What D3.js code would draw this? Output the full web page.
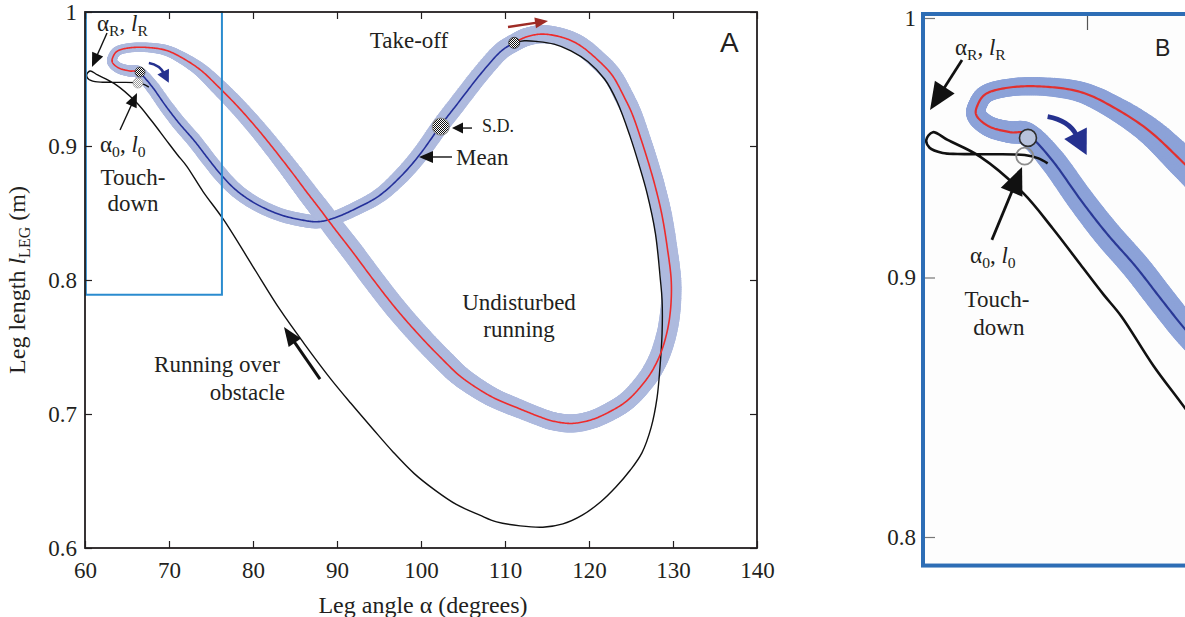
<!DOCTYPE html>
<html>
<head>
<meta charset="utf-8">
<script src="https://d3js.org/d3.v7.min.js"></script>
<style>
  body { margin: 0; background: #fff; }
  svg text { font-family: "Liberation Serif", "Times New Roman", serif; fill: #231f20; }
</style>
</head>
<body>
<svg id="chart" width="1185" height="617"></svg>
<script>
// axis ticks
const xTicks = [60, 70, 80, 90, 100, 110, 120, 130, 140]
const yTicks = [0.6, 0.7, 0.8, 0.9, 1]
const zoomYTicks = [0.8, 0.9, 1]
const zoomXTicks = [70]

// mean trajectory, stance (touch-down -> take-off)
const stanceAlpha = [66.4, 67.9, 69.6, 71.2, 73.0, 74.6, 76.2, 78.0, 80.3, 83.1, 85.65, 87.65, 89.55, 92.15, 95.05, 97.7, 99.9, 102.3, 104.4, 107.0, 109.4, 111.1]
const stanceLength = [0.955, 0.945, 0.930, 0.917, 0.904, 0.891, 0.8785, 0.867, 0.857, 0.849, 0.845, 0.8435, 0.846, 0.853, 0.863, 0.878, 0.894, 0.915, 0.932, 0.953, 0.970, 0.977]
const stanceSD = [0.0045, 0.005, 0.0052, 0.0054, 0.0055, 0.0055, 0.0055, 0.0053, 0.0052, 0.005, 0.005, 0.005, 0.005, 0.0052, 0.0055, 0.006, 0.0062, 0.0065, 0.0066, 0.0066, 0.0066, 0.0066]

// mean trajectory, swing (take-off -> touch-down)
const swingAlpha = [112.6, 114.5, 116.85, 118.95, 121.25, 122.85, 124.15, 125.2, 126.3, 127.2, 128.0, 128.7, 129.3, 129.8, 129.6, 128.8, 127.6, 126.1, 124.55, 122.85, 120.45, 118.05, 115.85, 114.1, 111.3, 109.0, 107.0, 104.7, 103.0, 100.2, 97.1, 94.35, 91.85, 89.75, 87.95, 86.35, 84.8, 82.7, 80.5, 78.1, 75.75, 73.7, 71.5, 69.6, 67.5, 65.5, 63.9, 63.3, 63.3, 64.1, 65.3]
const swingLength = [0.9815, 0.9835, 0.981, 0.975, 0.963, 0.952, 0.937, 0.923, 0.903, 0.885, 0.867, 0.848, 0.825, 0.798, 0.772, 0.750, 0.733, 0.720, 0.710, 0.703, 0.696, 0.693, 0.6945, 0.698, 0.705, 0.711, 0.718, 0.728, 0.738, 0.756, 0.778, 0.800, 0.821, 0.838, 0.853, 0.866, 0.879, 0.896, 0.913, 0.930, 0.945, 0.957, 0.966, 0.9715, 0.9735, 0.9734, 0.971, 0.966, 0.962, 0.958, 0.956]
const swingSD = [0.0068, 0.0068, 0.0068, 0.007, 0.007, 0.007, 0.0072, 0.0072, 0.0072, 0.0073, 0.0074, 0.0075, 0.0075, 0.0076, 0.0076, 0.0075, 0.0073, 0.0071, 0.007, 0.007, 0.0068, 0.0068, 0.0068, 0.0068, 0.007, 0.0072, 0.0075, 0.0078, 0.008, 0.0081, 0.0082, 0.0082, 0.0082, 0.008, 0.0078, 0.0076, 0.0074, 0.007, 0.0067, 0.0064, 0.006, 0.0052, 0.0045, 0.004, 0.0036, 0.0035, 0.0035, 0.0036, 0.0038, 0.004, 0.0042]

// running over obstacle (take-off -> next touch-down)
const obstacleAlpha = [111.1, 112.3, 113.8, 115.85, 117.85, 119.85, 121.85, 123.35, 124.9, 126.0, 126.9, 127.9, 128.5, 128.7, 128.7, 128.45, 128.1, 127.4, 126.3, 124.9, 123.2, 121.4, 119.2, 116.9, 114.5, 111.8, 109.0, 107.0, 104.2, 101.7, 99.2, 96.7, 94.25, 91.65, 89.15, 86.15, 83.2, 79.9, 76.5, 74.05, 72.1, 71.0, 69.6, 67.9, 66.1, 63.5, 61.5, 60.6, 60.2, 60.4, 61.2, 62.1, 64.0, 66.2, 67.0, 67.6]
const obstacleLength = [0.977, 0.9785, 0.978, 0.976, 0.971, 0.963, 0.950, 0.933, 0.907, 0.885, 0.865, 0.835, 0.80, 0.785, 0.76, 0.735, 0.712, 0.690, 0.671, 0.658, 0.6455, 0.6345, 0.6245, 0.618, 0.6155, 0.6165, 0.6195, 0.6245, 0.6325, 0.643, 0.6555, 0.6715, 0.689, 0.708, 0.727, 0.752, 0.778, 0.811, 0.845, 0.866, 0.885, 0.8935, 0.905, 0.919, 0.9326, 0.9465, 0.953, 0.956, 0.953, 0.950, 0.948, 0.9476, 0.9475, 0.9472, 0.946, 0.944]

// marked events
const takeOff = [111.1, 0.977]
const sdMark = [102.35, 0.9145]
const meanTouchA = [66.55, 0.9552]
const obstTouchA = [66.31, 0.947]
const meanTouchB = [66.4, 0.9538]
const obstTouchB = [66.2, 0.9468]
const zoomBox = { a0: 60.1, a1: 76.3, l0: 0.789, l1: 1.0 }

const ink = "#231f20"
const svg = d3.select("#chart")

const xA = d3.scaleLinear().domain([60, 140]).range([85, 757])
const yA = d3.scaleLinear().domain([0.6, 1]).range([548, 12])
const xB = d3.scaleLinear().domain([60, 70]).range([923, 1087])
const yB = d3.scaleLinear().domain([0.8, 1]).range([537, 18])

// checker fill for the marker circles
const defs = svg.append("defs")
function checker(id, c) {
    const p = defs.append("pattern").attr("id", id).attr("width", 2).attr("height", 2)
        .attr("patternUnits", "userSpaceOnUse")
    p.append("rect").attr("width", 2).attr("height", 2).attr("fill", "#fff")
    p.append("rect").attr("width", 1).attr("height", 1).attr("fill", c)
    p.append("rect").attr("x", 1).attr("y", 1).attr("width", 1).attr("height", 1).attr("fill", c)
}
checker("chk", "#111")
checker("chkGray", "#9a9a9a")
defs.append("clipPath").attr("id", "clipB").append("rect")
    .attr("x", 925).attr("y", 16).attr("width", 300).attr("height", 544)

// closed catmull-rom through the mean loop, sampled densely
const loop = stanceAlpha.map((a, i) => ({a: a, l: stanceLength[i], sd: stanceSD[i]}))
    .concat(swingAlpha.map((a, i) => ({a: a, l: swingLength[i], sd: swingSD[i]})))
const STEPS = 16
function sampleClosed(pts, n) {
    const N = pts.length, out = []
    for (let i = 0; i < N; i++) {
        const p0 = pts[(i - 1 + N) % N], p1 = pts[i], p2 = pts[(i + 1) % N], p3 = pts[(i + 2) % N]
        for (let s = 0; s < n; s++) {
            const t = s / n
            const cr = (a, b, c, d) => 0.5 * (2 * b + (c - a) * t + (2 * a - 5 * b + 4 * c - d) * t * t + (3 * b - a - 3 * c + d) * t * t * t)
            out.push({a: cr(p0.a, p1.a, p2.a, p3.a), l: cr(p0.l, p1.l, p2.l, p3.l), sd: p1.sd + (p2.sd - p1.sd) * t})
        }
    }
    return out
}
const loopSamples = sampleClosed(loop, STEPS)
const cut = (stanceAlpha.length - 1) * STEPS
const stanceSamples = loopSamples.slice(0, cut + 1)
const swingSamples = loopSamples.slice(cut).concat([loopSamples[0]])
const obstacle = obstacleAlpha.map((a, i) => ({a: a, l: obstacleLength[i]}))

function drawTrajectories(g, x, y, st) {
    const ppu = Math.abs(y(0.9) - y(1)) / 0.1
    g.append("g").selectAll("circle")
        .data(loopSamples)
        .join("circle")
        .attr("cx", (d) => x(d.a))
        .attr("cy", (d) => y(d.l))
        .attr("r", (d) => d.sd * ppu)
        .attr("fill", st.band)
    g.append("path")
        .attr("d", d3.line().x((d) => x(d.a)).y((d) => y(d.l)).curve(d3.curveCatmullRom.alpha(0.5))(obstacle))
        .attr("fill", "none").attr("stroke", "#111").attr("stroke-width", st.black)
        .attr("stroke-linejoin", "round")
    const lin = d3.line().x((d) => x(d.a)).y((d) => y(d.l))
    g.append("path").attr("d", lin(stanceSamples))
        .attr("fill", "none").attr("stroke", st.blue).attr("stroke-width", st.lw)
    g.append("path").attr("d", lin(swingSamples))
        .attr("fill", "none").attr("stroke", st.red).attr("stroke-width", st.lw)
}

function arrow(g, x, y, d, k, o) {
    const x1 = x(d.a1), y1 = y(d.l1), x2 = x(d.a2), y2 = y(d.l2)
    const len = Math.hypot(x2 - x1, y2 - y1), ux = (x2 - x1) / len, uy = (y2 - y1) / len
    const L = o.head * k, W = o.half * k
    const bx = x2 - ux * L, by = y2 - uy * L
    g.append("line")
        .attr("x1", x1).attr("y1", y1)
        .attr("x2", x2 - ux * L * 0.6).attr("y2", y2 - uy * L * 0.6)
        .attr("stroke", o.color).attr("stroke-width", o.width * k)
    g.append("path")
        .attr("d", `M${x2},${y2}L${bx - uy * W},${by + ux * W}L${bx + uy * W},${by - ux * W}Z`)
        .attr("fill", o.color)
}

function curvedArrow(g, x, y, d, k, o) {
    const sx = x(d.a1), sy = y(d.l1), cx = x(d.ac), cy = y(d.lc), tx = x(d.a2), ty = y(d.l2)
    const len = Math.hypot(tx - cx, ty - cy), ux = (tx - cx) / len, uy = (ty - cy) / len
    const L = o.head * k, W = o.half * k
    const bx = tx - ux * L, by = ty - uy * L
    g.append("path")
        .attr("d", `M${sx},${sy}Q${cx},${cy} ${bx + ux * 2},${by + uy * 2}`)
        .attr("fill", "none").attr("stroke", o.color).attr("stroke-width", o.width * k)
    g.append("path")
        .attr("d", `M${tx},${ty}L${bx - uy * W},${by + ux * W}L${bx + uy * W},${by - ux * W}Z`)
        .attr("fill", o.color)
}

function rich(g, px, py, parts, size, anchor) {
    const t = g.append("text").attr("x", px).attr("y", py)
        .attr("font-size", size).attr("text-anchor", anchor || "start")
    parts.forEach((p) => {
        const s = t.append("tspan").text(p.t)
        if (p.i) s.attr("font-style", "italic")
        if (p.sub) s.attr("font-size", size * 0.68).attr("dy", size * 0.22)
        if (p.up) s.attr("dy", -size * 0.22)
    })
    return t
}
const alphaR = [{t: "α"}, {t: "R", sub: 1}, {t: ", ", up: 1}, {t: "l", i: 1}, {t: "R", sub: 1}]
const alpha0 = [{t: "α"}, {t: "0", sub: 1}, {t: ", ", up: 1}, {t: "l", i: 1}, {t: "0", sub: 1}]

const blueTurn = {a1: 67.6, l1: 0.962, ac: 68.9, lc: 0.9605, a2: 69.98, l2: 0.9472}

// ---------------- panel A ----------------
const gA = svg.append("g")
drawTrajectories(gA, xA, yA, {band: "#aebade", blue: "#24309a", red: "#ee2b2b", black: 1.4, lw: 1.6})

gA.append("rect")
    .attr("x", xA(zoomBox.a0)).attr("y", yA(zoomBox.l1))
    .attr("width", xA(zoomBox.a1) - xA(zoomBox.a0))
    .attr("height", yA(zoomBox.l0) - yA(zoomBox.l1))
    .attr("fill", "none").attr("stroke", "#2a8bcf").attr("stroke-width", 2)

gA.append("circle").attr("cx", xA(takeOff[0])).attr("cy", yA(takeOff[1])).attr("r", 5.5)
    .attr("fill", "url(#chk)").attr("stroke", "#222").attr("stroke-width", 0.8)
gA.append("circle").attr("cx", xA(sdMark[0])).attr("cy", yA(sdMark[1])).attr("r", 8.5)
    .attr("fill", "url(#chk)").attr("stroke", "#8a8a8a").attr("stroke-width", 1.2)
gA.append("circle").attr("cx", xA(obstTouchA[0])).attr("cy", yA(obstTouchA[1])).attr("r", 5)
    .attr("fill", "url(#chkGray)").attr("stroke", "#999").attr("stroke-width", 0.6)
gA.append("circle").attr("cx", xA(meanTouchA[0])).attr("cy", yA(meanTouchA[1])).attr("r", 5)
    .attr("fill", "url(#chk)").attr("stroke", "#222").attr("stroke-width", 0.6)

const black = {color: "#111", width: 1.4, head: 14, half: 6}
arrow(gA, xA, yA, {a1: 62.62, l1: 0.9843, a2: 60.83, l2: 0.959}, 1, black)
arrow(gA, xA, yA, {a1: 64.17, l1: 0.912, a2: 66.19, l2: 0.9396}, 1, black)
arrow(gA, xA, yA, {a1: 106.07, l1: 0.9134, a2: 103.69, l2: 0.9134}, 1, {color: "#111", width: 1.4, head: 11, half: 5.5})
arrow(gA, xA, yA, {a1: 103.69, l1: 0.8918, a2: 99.76, l2: 0.8918}, 1, {color: "#111", width: 1.4, head: 14, half: 6})
arrow(gA, xA, yA, {a1: 87.98, l1: 0.7261, a2: 83.69, l2: 0.7649}, 1, {color: "#111", width: 3, head: 19, half: 7.5})
arrow(gA, xA, yA, {a1: 110.36, l1: 0.9888, a2: 115.12, l2: 0.9933}, 1, {color: "#9e2b25", width: 2.4, head: 13, half: 5.5})
curvedArrow(gA, xA, yA, blueTurn, 1, {color: "#25318f", width: 2.6, head: 12.5, half: 6.5})

rich(gA, xA(61.43), yA(0.9858), alphaR, 23)
rich(gA, xA(61.79), yA(0.8955), alpha0, 23)
gA.append("text").attr("x", xA(65.71)).attr("y", yA(0.8709)).attr("font-size", 23).attr("text-anchor", "middle").text("Touch-")
gA.append("text").attr("x", xA(65.71)).attr("y", yA(0.8515)).attr("font-size", 23).attr("text-anchor", "middle").text("down")
gA.append("text").attr("x", xA(98.57)).attr("y", yA(0.9731)).attr("font-size", 23).attr("text-anchor", "middle").text("Take-off")
gA.append("text").attr("x", xA(107.26)).attr("y", yA(0.9104)).attr("font-size", 18).text("S.D.")
gA.append("text").attr("x", xA(104.17)).attr("y", yA(0.8858)).attr("font-size", 23).text("Mean")
gA.append("text").attr("x", xA(111.67)).attr("y", yA(0.7776)).attr("font-size", 23).attr("text-anchor", "middle").text("Undisturbed")
gA.append("text").attr("x", xA(111.67)).attr("y", yA(0.7575)).attr("font-size", 23).attr("text-anchor", "middle").text("running")
gA.append("text").attr("x", xA(83.21)).attr("y", yA(0.7313)).attr("font-size", 23).attr("text-anchor", "end").text("Running over")
gA.append("text").attr("x", xA(83.81)).attr("y", yA(0.7104)).attr("font-size", 23).attr("text-anchor", "end").text("obstacle")
gA.append("text").attr("x", xA(135.6)).attr("y", yA(0.9701)).attr("font-size", 28)
    .style("font-family", "'Liberation Sans', Arial, sans-serif").text("A")

// axes A: MATLAB style box, ticks inside on all four sides
function styleAxis(g, size) {
    g.attr("font-family", null).attr("font-size", null)
    g.select(".domain").remove()
    g.selectAll(".tick line").attr("stroke", ink).attr("stroke-width", 1.2)
    g.selectAll(".tick text").attr("font-size", size).attr("fill", ink)
}
gA.append("g").attr("transform", `translate(0,${yA(0.6)})`)
    .call(d3.axisBottom(xA).tickValues(xTicks).tickSize(-7).tickPadding(14).tickFormat((d) => String(d)))
    .call((g) => styleAxis(g, 23))
gA.append("g").attr("transform", `translate(0,${yA(1)})`)
    .call(d3.axisTop(xA).tickValues(xTicks).tickSize(-7).tickFormat(""))
    .call((g) => styleAxis(g, 23))
gA.append("g").attr("transform", `translate(${xA(60)},0)`)
    .call(d3.axisLeft(yA).tickValues(yTicks).tickSize(-7).tickPadding(8).tickFormat((d) => String(d)))
    .call((g) => styleAxis(g, 23))
gA.append("g").attr("transform", `translate(${xA(140)},0)`)
    .call(d3.axisRight(yA).tickValues(yTicks).tickSize(-7).tickFormat(""))
    .call((g) => styleAxis(g, 23))
gA.append("rect")
    .attr("x", xA(60)).attr("y", yA(1))
    .attr("width", xA(140) - xA(60)).attr("height", yA(0.6) - yA(1))
    .attr("fill", "none").attr("stroke", ink).attr("stroke-width", 1.8)

gA.append("text").attr("x", (xA(60) + xA(140)) / 2 + 2).attr("y", 613)
    .attr("font-size", 24).attr("text-anchor", "middle").text("Leg angle α (degrees)")
const yl = gA.append("text")
    .attr("transform", `translate(25,${(yA(0.6) + yA(1)) / 2}) rotate(-90)`)
    .attr("font-size", 24).attr("text-anchor", "middle")
yl.append("tspan").text("Leg length ")
yl.append("tspan").attr("font-style", "italic").text("l")
yl.append("tspan").attr("font-size", 16).attr("dy", 5).text("LEG")
yl.append("tspan").attr("dy", -5).text(" (m)")

// ---------------- panel B (zoom of the boxed region) ----------------
const gB = svg.append("g")
gB.append("rect")
    .attr("x", xB(60)).attr("y", yB(zoomBox.l1) - 4)
    .attr("width", 300).attr("height", yB(zoomBox.l0) - yB(zoomBox.l1) + 4)
    .attr("fill", "#fdfdfd")
const inner = gB.append("g").attr("clip-path", "url(#clipB)")
const kB = (xB(70) - xB(60)) / (xA(70) - xA(60))
drawTrajectories(inner, xB, yB, {band: "#8ca2d8", blue: "#2a3996", red: "#e2302e", black: 2.6, lw: 2.2})
inner.append("circle").attr("cx", xB(meanTouchB[0])).attr("cy", yB(meanTouchB[1])).attr("r", 8.5)
    .attr("fill", "#b7c2dc").attr("stroke", "#2e2e2e").attr("stroke-width", 1.6)
inner.append("circle").attr("cx", xB(obstTouchB[0])).attr("cy", yB(obstTouchB[1])).attr("r", 8.5)
    .attr("fill", "none").attr("stroke", "#8c8c8c").attr("stroke-width", 1.8)
arrow(inner, xB, yB, {a1: 62.38, l1: 0.9838, a2: 60.43, l2: 0.9645}, kB, black)
arrow(inner, xB, yB, {a1: 64.2, l1: 0.9145, a2: 66.04, l2: 0.9426}, kB, black)
curvedArrow(inner, xB, yB, blueTurn, kB, {color: "#25318f", width: 2.4, head: 12.5, half: 6.5})

rich(inner, xB(61.95), yB(0.9857), alphaR, 23)
rich(inner, xB(62.87), yB(0.9056), alpha0, 23)
inner.append("text").attr("x", xB(64.51)).attr("y", yB(0.8886)).attr("font-size", 23).attr("text-anchor", "middle").text("Touch-")
inner.append("text").attr("x", xB(64.63)).attr("y", yB(0.8778)).attr("font-size", 23).attr("text-anchor", "middle").text("down")
inner.append("text").attr("x", xB(74.15)).attr("y", yB(0.9854)).attr("font-size", 23)
    .style("font-family", "'Liberation Sans', Arial, sans-serif").text("B")

gB.append("g").attr("transform", `translate(${xB(60)},0)`)
    .call(d3.axisLeft(yB).tickValues(zoomYTicks).tickSize(-12).tickPadding(7).tickFormat((d) => String(d)))
    .call((g) => {
        styleAxis(g, 23)
        g.selectAll(".tick line").attr("stroke", "#777")
    })
gB.append("g").attr("transform", `translate(0,${yB(zoomBox.l1) - 4})`)
    .call(d3.axisTop(xB).tickValues(zoomXTicks).tickSize(-16).tickFormat(""))
    .call((g) => {
        styleAxis(g, 23)
        g.selectAll(".tick line").attr("stroke", "#555")
    })
gB.append("rect")
    .attr("x", xB(60)).attr("y", yB(zoomBox.l1) - 4)
    .attr("width", 300).attr("height", yB(zoomBox.l0) - yB(zoomBox.l1) + 4)
    .attr("fill", "none").attr("stroke", "#2d6db5").attr("stroke-width", 4)
</script>
</body>
</html>
